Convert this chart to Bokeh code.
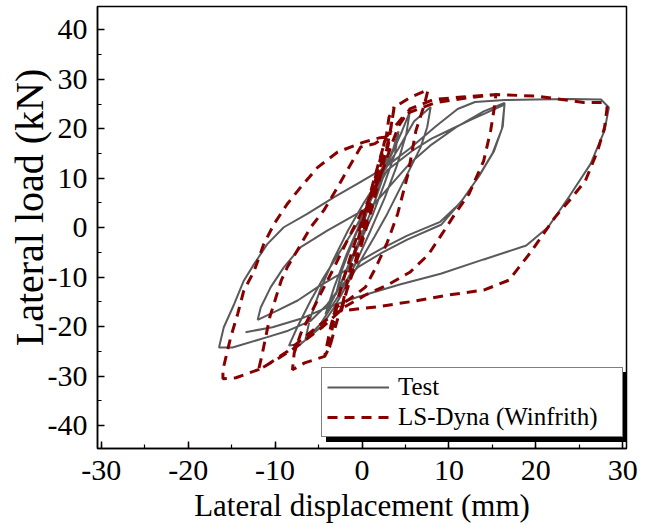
from bokeh.plotting import figure
from bokeh.models import Range1d, FixedTicker, Legend, LegendItem
from bokeh.embed import file_html
from bokeh.resources import INLINE

# ---------------- data ----------------
test_x = [0.0, 1.0, 2.0, 2.9, 2.4, 1.2, -0.3, -1.8, -3.0, -2.3, -1.0, 0.5, 2.0, 3.6, 4.2,
          3.8, 2.6, 1.2, -0.5, -2.2, -3.8, -4.2, -3.2, -1.8, -0.2, 1.5, 3.2, 4.6, 5.5,
          5.1, 4.0, 2.6, 1.0, -0.8, -2.8, -4.8, -6.5,
          -6.0, -4.8, -3.3, -1.6, 0.2, 2.2, 4.2, 6.0, 7.9,
          7.5, 6.75, 5.6, 4.45, 2.9, 1.4, -0.15, -1.7, -3.2, -4.75, -7.05, -8.4,
          -7.45, -5.9, -4.4, -2.45, -0.5, 1.4, 2.9, 5.75, 8.0, 9.9, 12.5, 14.8, 16.4,
          16.1, 15.0, 13.3, 11.3, 9.0, 5.2, 2.15, -0.5, -2.5, -5.1, -7.4, -9.7, -12.0,
          -11.65, -10.5, -9.0, -7.05, -4.0, -1.3, 1.4, 3.5, 5.5, 8.0, 11.0, 14.0, 16.4,
          16.2, 15.2, 13.5, 11.5, 9.1, 5.2, 2.15, -0.5, -2.5, -4.0, -5.9, -8.5, -10.9, -14.9, -16.45,
          -15.9, -14.7, -13.6, -12.4, -10.9, -9.0, -6.3, -3.2, -0.5, 2.5, 5.5, 8.5, 11.0, 13.0,
          16.4, 20.0, 24.0, 27.5, 28.4,
          27.9, 26.3, 23.8, 21.4, 18.9, 14.0, 9.05, 4.45, -0.5, -4.0, -7.05, -10.3, -13.4]
test_y = [0.0, 5.5, 10.5, 14.5, 10.0, 4.0, -2.5, -8.5, -13.5, -8.5, -2.5, 3.5, 9.5, 16.0, 19.5,
          15.0, 9.0, 2.5, -4.0, -10.5, -16.0, -17.5, -12.0, -5.5, 1.0, 7.5, 14.0, 19.5, 23.4,
          19.0, 12.5, 6.0, -0.5, -7.5, -14.0, -19.5, -22.5,
          -18.5, -12.5, -6.5, -0.5, 5.0, 10.5, 16.0, 21.5, 24.4,
          20.3, 16.3, 12.2, 8.2, 2.8, -1.9, -6.6, -11.4, -16.1, -20.1, -23.5, -23.8,
          -20.1, -14.7, -10.0, -4.6, 0.8, 6.8, 11.6, 15.5, 18.0, 19.6, 21.8, 23.6, 24.9,
          20.0, 15.0, 10.0, 5.0, 1.2, -1.6, -4.3, -7.0, -9.3, -12.0, -14.7, -16.7, -18.6,
          -16.1, -12.0, -8.0, -3.9, -0.6, 2.1, 4.8, 9.0, 13.0, 16.8, 20.5, 23.5, 25.2,
          20.5, 15.5, 10.5, 5.5, 0.6, -2.4, -5.2, -8.0, -12.0, -15.5, -18.8, -20.8, -22.1, -24.2, -24.2,
          -20.1, -15.4, -10.7, -7.3, -3.3, 0.1, 2.8, 6.2, 8.9, 12.0, 16.0, 20.5, 24.0, 25.4,
          25.8, 25.9, 26.0, 25.9, 24.3,
          19.6, 12.9, 6.2, 0.1, -3.6, -6.4, -9.3, -11.4, -14.0, -16.1, -18.4, -20.1, -21.1]

dyna_x = [0.0, 1.2, 2.2, 2.6, 1.8, 0.5, -0.8, -1.8, -2.4, -1.6, -0.4, 0.8, 1.9, 2.8, 3.1, 3.7,
          3.2, 2.2, 1.0, -0.5, -1.8, -2.9, -3.7, -4.3,
          -3.6, -2.4, -1.0, 0.5, 1.8, 3.0, 3.7, 5.5, 7.6,
          7.2, 6.2, 5.3, 4.1, 2.9, 1.6, 0.4, -1.5, -2.9, -3.4, -3.7, -4.3, -6.6, -8.0,
          -7.8, -7.05, -5.9, -4.75, -3.2, -1.7, -0.15, 1.4, 2.5, 3.3, 4.2, 5.5, 8.2, 11.5, 15.4,
          15.2, 14.8, 14.0, 12.3, 10.7, 9.3, 7.6, 5.5, 3.0, 0.5, -2.0, -4.5, -7.5, -10.0, -11.9,
          -11.5, -10.6, -9.3, -8.6, -7.45, -5.9, -4.4, -2.8, -1.7, -0.15, 1.5, 2.9, 5.0, 8.5, 12.0, 15.4,
          20.1, 25.5, 27.9, 28.2,
          27.9, 27.1, 25.7, 24.0, 22.2, 19.3, 16.9, 14.0, 9.9, 5.75, 1.6, -2.5, -3.2, -5.5, -8.6, -11.5, -14.5, -16.0,
          -16.0, -15.5, -15.1, -14.3, -13.6, -12.4, -11.3, -10.1, -8.6, -7.05, -5.1, -2.8, 0.2, 2.1, 3.3]
dyna_y = [0.0, 8.0, 14.5, 17.5, 10.0, 1.0, -7.0, -13.0, -17.0, -10.0, -2.0, 6.0, 13.0, 18.5, 22.3, 24.4,
          19.0, 11.0, 3.0, -6.0, -13.0, -19.0, -24.0, -26.0,
          -20.0, -12.0, -4.0, 4.0, 11.0, 16.5, 24.3, 26.3, 27.9,
          25.0, 19.6, 10.9, 2.8, -3.0, -8.0, -12.0, -14.5, -16.0, -20.0, -24.0, -26.0, -27.3, -28.7,
          -25.3, -21.4, -17.4, -13.3, -8.0, -2.6, 2.8, 7.5, 12.2, 16.3, 20.5, 24.0, 25.9, 26.4, 26.9,
          24.0, 19.6, 13.5, 6.8, 2.8, -1.0, -5.5, -9.0, -11.5, -13.5, -16.0, -20.0, -24.0, -26.8, -28.7,
          -25.7, -18.0, -10.7, -8.0, -4.6, 0.1, 3.5, 8.2, 11.6, 16.3, 17.0, 18.6, 23.0, 25.3, 26.2, 26.9,
          26.6, 25.3, 25.3, 24.3,
          20.2, 15.5, 9.5, 5.8, 2.1, -5.2, -10.6, -12.6, -13.6, -14.9, -16.0, -16.8, -17.4, -20.5, -25.0, -28.4, -30.3, -30.5,
          -28.7, -25.0, -22.1, -17.4, -12.7, -8.7, -3.3, 0.8, 4.8, 8.2, 12.2, 15.3, 17.3, 18.2, 18.4]

x_ticks = [-30, -20, -10, 0, 10, 20, 30]
x_minor = [-30, -25, -20, -15, -10, -5, 0, 5, 10, 15, 20, 25, 30]
y_ticks = [-40, -30, -20, -10, 0, 10, 20, 30, 40]
y_minor = [-40, -35, -30, -25, -20, -15, -10, -5, 0, 5, 10, 15, 20, 25, 30, 35, 40]
x_title = "Lateral displacement (mm)"
y_title = "Lateral load (kN)"
series_names = ["Test", "LS-Dyna (Winfrith)"]

FONT = "Liberation Serif"

p = figure(width=652, height=525, output_backend="svg", toolbar_location=None,
           x_range=Range1d(-30.43, 30.43), y_range=Range1d(-44.6, 44.7),
           min_border_left=97, min_border_right=26, min_border_top=6, min_border_bottom=77,
           background_fill_color="white", border_fill_color="white")

p.xgrid.visible = False
p.ygrid.visible = False
p.outline_line_color = "black"
p.outline_line_width = 1.5

p.xaxis.ticker = FixedTicker(ticks=x_ticks, minor_ticks=x_minor)
p.yaxis.ticker = FixedTicker(ticks=y_ticks, minor_ticks=y_minor)
# plain ASCII hyphen for negative numbers, as in the reference
p.xaxis.major_label_overrides = {t: str(t) for t in x_ticks}
p.yaxis.major_label_overrides = {t: str(t) for t in y_ticks}

for ax in (p.xaxis, p.yaxis):
    ax.axis_line_color = "black"
    ax.axis_line_width = 1.5
    ax.major_tick_in = 7
    ax.major_tick_out = 0
    ax.minor_tick_in = 4
    ax.minor_tick_out = 0
    ax.major_tick_line_color = "black"
    ax.major_tick_line_width = 1.5
    ax.minor_tick_line_color = "black"
    ax.minor_tick_line_width = 1.2
    ax.major_label_text_font = FONT
    ax.major_label_text_font_size = "30px"
    ax.major_label_text_color = "black"
    ax.axis_label_text_font = FONT
    ax.axis_label_text_font_style = "normal"
    ax.axis_label_text_color = "black"

p.xaxis.axis_label = x_title
# leading no-break spaces nudge the centred vertical title upward, as in the reference
p.yaxis.axis_label = "\u00a0\u00a0\u00a0\u00a0" + y_title
p.xaxis.axis_label_text_font_size = "31px"
p.yaxis.axis_label_text_font_size = "40px"
p.xaxis.major_label_standoff = 12
p.yaxis.major_label_standoff = 10
p.xaxis.axis_label_standoff = 5
p.yaxis.axis_label_standoff = -7

r_test = p.line(test_x, test_y, line_color="#1a1a1a", line_width=2, line_alpha=0.72)
r_dyna = p.line(dyna_x, dyna_y, line_color="#870000", line_width=3, line_dash="10 7")
r_blank = p.line(x=[], y=[], line_alpha=0)   # invisible glyph for the legend's drop shadow

common = dict(orientation="vertical", margin=0, padding=5, spacing=2,
              glyph_width=62, glyph_height=28, label_standoff=9,
              label_width=219, label_height=28,
              label_text_font=FONT, label_text_font_size="25px",
              border_line_width=1.2, background_fill_alpha=1.0)

# drop shadow of the legend box (no text of its own)
shadow = Legend(items=[LegendItem(label=" ", renderers=[r_blank]),
                       LegendItem(label="  ", renderers=[r_blank])],
                location=(229, 6), label_text_color="black",
                border_line_color="black", background_fill_color="black", **common)
p.add_layout(shadow, "center")

legend = Legend(items=[LegendItem(label=series_names[0], renderers=[r_test]),
                       LegendItem(label=series_names[1], renderers=[r_dyna])],
                location=(224, 11), label_text_color="black",
                border_line_color="black", background_fill_color="white", **common)
p.add_layout(legend, "center")

open("out.html", "w").write(file_html(p, INLINE))
